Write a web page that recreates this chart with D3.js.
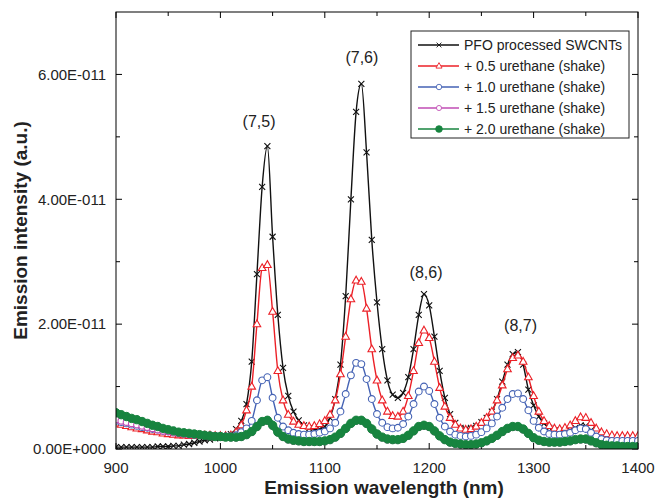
<!DOCTYPE html>
<html>
<head>
<meta charset="utf-8">
<script src="https://cdn.jsdelivr.net/npm/d3@7"></script>
<style>
  body { margin: 0; background: #fff; }
  text { font-family: "Liberation Sans", Arial, sans-serif; }
</style>
</head>
<body>
<div id="chart"></div>
<script>
// wavelength grid (nm) and intensities in units of 1E-011
var wavelength = d3.range(900, 1401, 5);

var pfo = [
  0.03,0.03,0.03,0.03,0.03,0.03,0.03,0.03,0.04,0.04,
  0.04,0.05,0.05,0.07,0.08,0.10,0.12,0.14,0.15,0.17,
  0.18,0.20,0.24,0.32,0.45,0.72,1.40,2.80,4.20,4.85,
  3.40,2.15,1.30,0.85,0.60,0.46,0.38,0.33,0.31,0.32,
  0.36,0.50,0.80,1.35,2.45,4.00,5.40,5.85,4.75,3.35,
  2.35,1.60,1.10,0.87,0.82,0.90,1.15,1.60,2.15,2.48,
  2.30,1.80,1.25,0.82,0.56,0.42,0.34,0.32,0.34,0.37,
  0.43,0.50,0.60,0.80,1.08,1.35,1.52,1.55,1.35,0.95,
  0.70,0.52,0.41,0.34,0.30,0.29,0.29,0.30,0.34,0.38,
  0.37,0.30,0.22,0.18,0.16,0.15,0.15,0.15,0.15,0.15,
  0.15];

var u05 = [
  0.41,0.39,0.37,0.35,0.33,0.32,0.30,0.28,0.27,0.25,
  0.24,0.23,0.22,0.22,0.21,0.21,0.21,0.22,0.22,0.21,
  0.21,0.21,0.22,0.27,0.38,0.62,1.00,2.00,2.90,2.95,
  2.20,1.25,0.78,0.55,0.44,0.39,0.37,0.36,0.37,0.40,
  0.45,0.55,0.78,1.20,1.80,2.40,2.70,2.68,2.25,1.60,
  1.10,0.78,0.60,0.53,0.52,0.60,0.85,1.25,1.70,1.90,
  1.78,1.40,0.98,0.68,0.50,0.39,0.33,0.31,0.32,0.36,
  0.42,0.50,0.60,0.78,1.02,1.28,1.46,1.50,1.40,1.15,
  0.85,0.60,0.45,0.37,0.33,0.32,0.34,0.38,0.45,0.51,
  0.50,0.42,0.33,0.27,0.24,0.22,0.21,0.21,0.21,0.21,
  0.21];

var u10 = [
  0.45,0.43,0.41,0.39,0.37,0.35,0.34,0.32,0.31,0.29,
  0.28,0.27,0.26,0.25,0.24,0.23,0.22,0.22,0.21,0.21,
  0.20,0.20,0.20,0.22,0.27,0.33,0.45,0.78,1.10,1.15,
  0.82,0.50,0.36,0.30,0.26,0.24,0.23,0.23,0.24,0.26,
  0.28,0.33,0.42,0.60,0.88,1.18,1.38,1.36,1.12,0.80,
  0.56,0.42,0.35,0.33,0.34,0.40,0.52,0.72,0.92,1.00,
  0.93,0.72,0.50,0.36,0.28,0.23,0.21,0.20,0.21,0.23,
  0.27,0.33,0.41,0.52,0.66,0.80,0.88,0.89,0.80,0.62,
  0.45,0.34,0.28,0.24,0.23,0.23,0.24,0.26,0.30,0.33,
  0.32,0.26,0.20,0.16,0.14,0.13,0.13,0.13,0.13,0.13,
  0.13];

var u15 = [
  0.47,0.45,0.43,0.41,0.39,0.37,0.35,0.33,0.31,0.29,
  0.28,0.26,0.25,0.24,0.23,0.22,0.22,0.22,0.22,0.21,
  0.20,0.19,0.18,0.18,0.19,0.22,0.27,0.35,0.43,0.45,
  0.37,0.26,0.19,0.15,0.13,0.12,0.11,0.11,0.11,0.11,
  0.12,0.14,0.18,0.24,0.32,0.40,0.45,0.45,0.40,0.31,
  0.23,0.18,0.15,0.14,0.14,0.16,0.21,0.28,0.35,0.37,
  0.35,0.28,0.20,0.14,0.10,0.08,0.07,0.06,0.06,0.07,
  0.09,0.12,0.16,0.21,0.27,0.32,0.35,0.35,0.31,0.24,
  0.17,0.13,0.11,0.10,0.10,0.10,0.11,0.12,0.14,0.15,
  0.15,0.12,0.09,0.06,0.05,0.04,0.04,0.04,0.03,0.03,
  0.03];

var u20 = [
  0.58,0.55,0.52,0.49,0.47,0.44,0.41,0.38,0.36,0.33,
  0.31,0.29,0.27,0.26,0.25,0.24,0.23,0.22,0.21,0.20,
  0.20,0.19,0.19,0.19,0.20,0.23,0.28,0.36,0.44,0.46,
  0.38,0.27,0.20,0.16,0.14,0.13,0.12,0.12,0.12,0.12,
  0.13,0.15,0.19,0.25,0.33,0.41,0.46,0.46,0.41,0.32,
  0.24,0.19,0.16,0.15,0.15,0.17,0.22,0.29,0.36,0.38,
  0.36,0.29,0.21,0.15,0.11,0.09,0.08,0.07,0.07,0.08,
  0.10,0.13,0.17,0.22,0.28,0.33,0.36,0.36,0.32,0.25,
  0.18,0.14,0.12,0.11,0.11,0.11,0.12,0.13,0.15,0.16,
  0.16,0.13,0.10,0.07,0.06,0.05,0.05,0.04,0.04,0.04,
  0.04];

var seriesNames = ["PFO processed SWCNTs", "+ 0.5 urethane (shake)", "+ 1.0 urethane (shake)",
                   "+ 1.5 urethane (shake)", "+ 2.0 urethane (shake)"];
var xTicks = [900, 1000, 1100, 1200, 1300, 1400];
var yTicks = [0, 2e-11, 4e-11, 6e-11];
var yTickLabels = ["0.00E+000", "2.00E-011", "4.00E-011", "6.00E-011"];
var peakLabels = ["(7,5)", "(7,6)", "(8,6)", "(8,7)"];
var peakX = [1037, 1135.5, 1197, 1287.5];
var peakY = [5.15, 6.19, 2.74, 1.89];

var series = [
  { name: seriesNames[0], values: pfo, color: "#111111", marker: "cross", lw: 1.4 },
  { name: seriesNames[1], values: u05, color: "#ec2027", marker: "triangle", lw: 1.4 },
  { name: seriesNames[2], values: u10, color: "#4462b4", marker: "circle", lw: 1.4 },
  { name: seriesNames[3], values: u15, color: "#c04cb4", marker: "diamond", lw: 2 },
  { name: seriesNames[4], values: u20, color: "#17843f", marker: "dot", lw: 6.5 }
];

var svgWidth = 658, svgHeight = 500;
var margin = { top: 12, right: 20, bottom: 51, left: 116 };
var width = svgWidth - margin.left - margin.right;
var height = svgHeight - margin.top - margin.bottom;

var svg = d3.select("#chart").append("svg")
  .attr("width", svgWidth)
  .attr("height", svgHeight)
  .style("background", "#fff");

var g = svg.append("g")
  .attr("transform", `translate(${margin.left},${margin.top})`);

var x = d3.scaleLinear().domain([900, 1400]).range([0, width]);
var y = d3.scaleLinear().domain([0, 7e-11]).range([height, 0]);

g.append("clipPath").attr("id", "clip")
  .append("rect").attr("width", width).attr("height", height);

// axes with inward ticks, minor ticks on all four sides
var xMinor = d3.range(950, 1400, 100);
var yMinor = [1e-11, 3e-11, 5e-11];

function tickMarks(sel, vals, scale, len, side) {
  vals.forEach(function(v) {
    var p = scale(v);
    var l = sel.append("line").attr("stroke", "#000").attr("stroke-width", 1);
    if (side === "bottom") l.attr("x1", p).attr("x2", p).attr("y1", height).attr("y2", height - len);
    if (side === "top") l.attr("x1", p).attr("x2", p).attr("y1", 0).attr("y2", len);
    if (side === "left") l.attr("x1", 0).attr("x2", len).attr("y1", p).attr("y2", p);
    if (side === "right") l.attr("x1", width).attr("x2", width - len).attr("y1", p).attr("y2", p);
  });
}

var axes = g.append("g");
tickMarks(axes, xTicks, x, 6, "bottom");
tickMarks(axes, xMinor, x, 4, "bottom");
tickMarks(axes, xTicks, x, 6, "top");
tickMarks(axes, xMinor, x, 4, "top");
tickMarks(axes, yTicks, y, 6, "left");
tickMarks(axes, yMinor, y, 4, "left");
tickMarks(axes, yTicks, y, 6, "right");
tickMarks(axes, yMinor, y, 4, "right");

axes.selectAll(".xlab").data(xTicks).enter().append("text")
  .attr("x", d => x(d)).attr("y", height + 24)
  .attr("text-anchor", "middle").attr("font-size", 15).attr("fill", "#222")
  .text(d => d);

axes.selectAll(".ylab").data(yTicks).enter().append("text")
  .attr("x", -10).attr("y", d => y(d)).attr("dy", "0.35em")
  .attr("text-anchor", "end").attr("font-size", 15).attr("fill", "#222")
  .text((d, i) => yTickLabels[i]);

// markers
function drawMarker(sel, type, color) {
  if (type === "cross") {
    sel.append("path").attr("d", "M-3,-3L3,3M-3,3L3,-3")
      .attr("stroke", color).attr("stroke-width", 1.1).attr("fill", "none");
  } else if (type === "triangle") {
    sel.append("path").attr("d", "M0,-4.2L3.8,2.6L-3.8,2.6Z")
      .attr("stroke", color).attr("stroke-width", 1.1).attr("fill", "#fff");
  } else if (type === "circle") {
    sel.append("circle").attr("r", 3.4)
      .attr("stroke", color).attr("stroke-width", 1.1).attr("fill", "#fff");
  } else if (type === "diamond") {
    sel.append("circle").attr("r", 3.2)
      .attr("stroke", color).attr("stroke-width", 1.1).attr("fill", "#fff");
  } else {
    sel.append("circle").attr("r", 4.2)
      .attr("stroke", color).attr("stroke-width", 1).attr("fill", color);
  }
}

var line = d3.line()
  .x((d, i) => x(wavelength[i]))
  .y(d => y(d * 1e-11))
  .curve(d3.curveMonotoneX);

var plot = g.append("g").attr("clip-path", "url(#clip)");

series.forEach(function(s) {
  var sg = plot.append("g");
  sg.append("path")
    .attr("d", line(s.values))
    .attr("fill", "none")
    .attr("stroke", s.color)
    .attr("stroke-width", s.lw);
  s.values.forEach(function(v, i) {
    var m = sg.append("g")
      .attr("transform", `translate(${x(wavelength[i])},${y(v * 1e-11)})`);
    drawMarker(m, s.marker, s.color);
  });
});

// frame
g.append("rect").attr("width", width).attr("height", height)
  .attr("fill", "none").attr("stroke", "#000").attr("stroke-width", 1);

// peak labels
g.selectAll(".peak").data(peakLabels).enter().append("text")
  .attr("x", (d, i) => x(peakX[i]))
  .attr("y", (d, i) => y(peakY[i] * 1e-11))
  .attr("text-anchor", "middle").attr("font-size", 16).attr("fill", "#222")
  .text(d => d);

// legend
var legend = svg.append("g").attr("transform", "translate(411,31)");
legend.append("rect").attr("width", 218).attr("height", 107)
  .attr("fill", "#fff").attr("stroke", "#222").attr("stroke-width", 1);
series.forEach(function(s, i) {
  var row = legend.append("g").attr("transform", `translate(0,${14 + i * 21})`);
  row.append("line").attr("x1", 7).attr("x2", 48).attr("y1", 0).attr("y2", 0)
    .attr("stroke", s.color).attr("stroke-width", 1.5);
  drawMarker(row.append("g").attr("transform", "translate(28,0) scale(0.8)"), s.marker, s.color);
  row.append("text").attr("x", 53).attr("y", 0).attr("dy", "0.35em")
    .attr("font-size", 14).attr("fill", "#222").text(s.name);
});

// axis titles
svg.append("text")
  .attr("x", 384).attr("y", 494)
  .attr("text-anchor", "middle").attr("font-size", 19).attr("font-weight", "bold")
  .attr("fill", "#222")
  .text("Emission wavelength (nm)");

svg.append("text")
  .attr("transform", `translate(27,${margin.top + height / 2}) rotate(-90)`)
  .attr("text-anchor", "middle").attr("font-size", 19).attr("font-weight", "bold")
  .attr("fill", "#222")
  .text("Emission intensity (a.u.)");
</script>
</body>
</html>
